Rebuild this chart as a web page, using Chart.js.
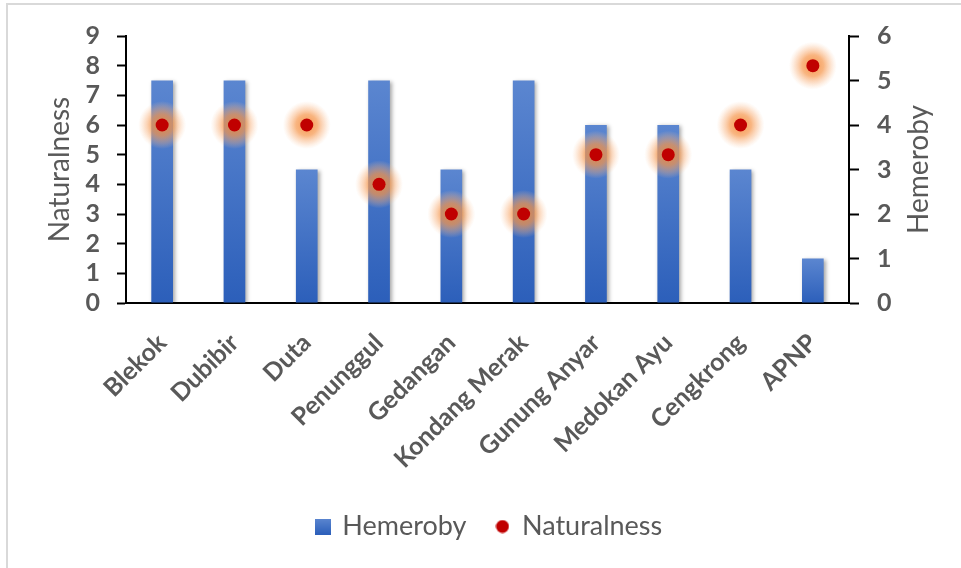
<!DOCTYPE html>
<html>
<head>
<meta charset="utf-8">
<script src="https://cdn.jsdelivr.net/npm/chart.js@4.4.1/dist/chart.umd.min.js"></script>
<style>
  html, body { margin: 0; padding: 0; background: #fff; overflow: hidden; }
  #wrap { position: absolute; left: 0; top: 0; width: 961px; height: 568px; }
  #frame { position: absolute; left: 6px; top: 3px; width: 980px; height: 600px;
           border: 2px solid #d9d9d9; box-sizing: border-box; }
  canvas { position: absolute; left: 0; top: 0; }
</style>
</head>
<body>
<div id="wrap">
  <div id="frame"></div>
  <canvas id="chart" width="961" height="568"></canvas>
</div>
<script>
// Sites along the coast
const sites = ['Blekok', 'Dubibir', 'Duta', 'Penunggul', 'Gedangan', 'Kondang Merak',
               'Gunung Anyar', 'Medokan Ayu', 'Cengkrong', 'APNP'];
// Hemeroby score per site (right axis, 0-6)
const hemeroby = [5, 5, 3, 5, 3, 5, 4, 4, 3, 1];
// Naturalness score per site (left axis, 0-9)
const naturalness = [6, 6, 6, 4, 3, 3, 5, 5, 6, 8];
// Axis ranges
const naturalnessTicks = [0, 1, 2, 3, 4, 5, 6, 7, 8, 9];
const hemerobyTicks = [0, 1, 2, 3, 4, 5, 6];

const textGrey = '#595959';
const FONT = 'Lato, "Open Sans", sans-serif';

// Vertical blue gradient for each bar, from its top down to the baseline
function barFill(ctx) {
  const chart = ctx.chart;
  const sc = chart.scales.y2;
  if (!chart.chartArea || !sc || ctx.raw === undefined) return '#4472c4';
  const top = sc.getPixelForValue(ctx.raw);
  const base = sc.getPixelForValue(0);
  if (!isFinite(top) || !isFinite(base) || top === base) return '#4472c4';
  const g = chart.ctx.createLinearGradient(0, top, 0, base);
  g.addColorStop(0, '#5b86d0');
  g.addColorStop(1, '#2c5fba');
  return g;
}

// Small legend swatches
function makeSquare() {
  const c = document.createElement('canvas');
  c.width = 16; c.height = 16;
  const x = c.getContext('2d');
  const g = x.createLinearGradient(0, 0, 0, 16);
  g.addColorStop(0, '#5b86d0');
  g.addColorStop(1, '#2c5fba');
  x.fillStyle = g;
  x.fillRect(0, 0, 16, 16);
  return c;
}
function makeDot() {
  const c = document.createElement('canvas');
  c.width = 14; c.height = 14;
  const x = c.getContext('2d');
  x.fillStyle = '#c00000';
  x.beginPath(); x.arc(7, 7, 6.5, 0, Math.PI * 2); x.fill();
  return c;
}
const squareSwatch = makeSquare();
const dotSwatch = makeDot();

// Soft shadow under the bars and orange glow behind the points
const effects = {
  id: 'effects',
  beforeDatasetDraw(chart, args) {
    const ds = chart.data.datasets[args.index];
    const ctx = chart.ctx;
    if (ds.type === 'bar') {
      ctx.save();
      ctx.shadowColor = 'rgba(0,0,0,0.35)';
      ctx.shadowBlur = 4;
      ctx.shadowOffsetX = 2;
      ctx.shadowOffsetY = 1;
    } else {
      const meta = chart.getDatasetMeta(args.index);
      meta.data.forEach(pt => {
        const r = 24;
        const g = ctx.createRadialGradient(pt.x, pt.y, 0, pt.x, pt.y, r);
        g.addColorStop(0, 'rgba(244,135,55,0.9)');
        g.addColorStop(0.45, 'rgba(246,150,75,0.7)');
        g.addColorStop(0.75, 'rgba(248,175,120,0.35)');
        g.addColorStop(1, 'rgba(250,200,160,0)');
        ctx.save();
        ctx.fillStyle = g;
        ctx.beginPath();
        ctx.arc(pt.x, pt.y, r, 0, Math.PI * 2);
        ctx.fill();
        ctx.restore();
      });
    }
  },
  afterDatasetDraw(chart, args) {
    const ds = chart.data.datasets[args.index];
    if (ds.type === 'bar') chart.ctx.restore();
  }
};

// Right axis title, reading bottom to top like the left one
const rightTitle = {
  id: 'rightTitle',
  afterDraw(chart) {
    const sc = chart.scales.y2;
    const ctx = chart.ctx;
    ctx.save();
    ctx.fillStyle = textGrey;
    ctx.font = '28px ' + FONT;
    ctx.textAlign = 'center';
    ctx.textBaseline = 'middle';
    ctx.translate(sc.right - 17, (sc.top + sc.bottom) / 2);
    ctx.rotate(-Math.PI / 2);
    ctx.fillText('Hemeroby', 0, 0);
    ctx.restore();
  }
};

new Chart(document.getElementById('chart'), {
  data: {
    labels: sites,
    datasets: [
      {
        type: 'bar',
        label: 'Hemeroby',
        data: hemeroby,
        yAxisID: 'y2',
        backgroundColor: barFill,
        borderWidth: 0,
        barPercentage: 0.3,
        categoryPercentage: 1,
        order: 2
      },
      {
        type: 'line',
        label: 'Naturalness',
        data: naturalness,
        yAxisID: 'y',
        showLine: false,
        pointRadius: 6.5,
        pointHoverRadius: 6.5,
        pointBackgroundColor: '#c00000',
        pointBorderWidth: 0,
        borderColor: '#c00000',
        backgroundColor: '#c00000',
        order: 1
      }
    ]
  },
  options: {
    responsive: false,
    animation: false,
    events: [],
    layout: { padding: { left: 43, right: 25, top: 36, bottom: 18 } },
    plugins: {
      tooltip: { enabled: false },
      legend: {
        position: 'bottom',
        labels: {
          usePointStyle: true,
          boxWidth: 12,
          boxHeight: 16,
          padding: 30,
          color: textGrey,
          font: { family: FONT, size: 27 },
          sort: (a, b) => a.datasetIndex - b.datasetIndex,
          generateLabels(chart) {
            const items = Chart.defaults.plugins.legend.labels.generateLabels(chart);
            items.forEach(it => {
              it.pointStyle = it.datasetIndex === 0 ? squareSwatch : dotSwatch;
            });
            return items;
          }
        }
      }
    },
    scales: {
      x: {
        grid: { display: false, drawTicks: false },
        border: { display: true, color: '#000', width: 2 },
        ticks: {
          color: textGrey,
          font: { family: FONT, size: 25, weight: 'bold' },
          maxRotation: 45,
          minRotation: 45,
          autoSkip: false,
          padding: 25
        },
        afterFit(scale) { scale.height = 180; }
      },
      y: {
        position: 'left',
        min: 0,
        max: 9,
        afterBuildTicks(scale) { scale.ticks = naturalnessTicks.map(v => ({ value: v })); },
        grid: { drawOnChartArea: false, drawTicks: true, tickLength: 9, color: '#000', tickWidth: 2 },
        border: { display: true, color: '#000', width: 2 },
        ticks: {
          color: textGrey,
          font: { family: FONT, size: 25, weight: 'bold' },
          padding: 17,
          autoSkip: false
        },
        title: {
          display: true,
          text: 'Naturalness',
          color: textGrey,
          font: { family: FONT, size: 28 },
          padding: { top: 0, bottom: 4 }
        },
        afterFit(scale) { scale.width = 83; }
      },
      y2: {
        position: 'right',
        min: 0,
        max: 6,
        afterBuildTicks(scale) { scale.ticks = hemerobyTicks.map(v => ({ value: v })); },
        grid: { drawOnChartArea: false, drawTicks: true, tickLength: 10, color: '#000', tickWidth: 2 },
        border: { display: true, color: '#000', width: 2 },
        ticks: {
          color: textGrey,
          font: { family: FONT, size: 25, weight: 'bold' },
          padding: 18,
          autoSkip: false
        },
        title: { display: false },
        afterFit(scale) { scale.width = 87; }
      }
    }
  },
  plugins: [effects, rightTitle]
});
</script>
</body>
</html>
